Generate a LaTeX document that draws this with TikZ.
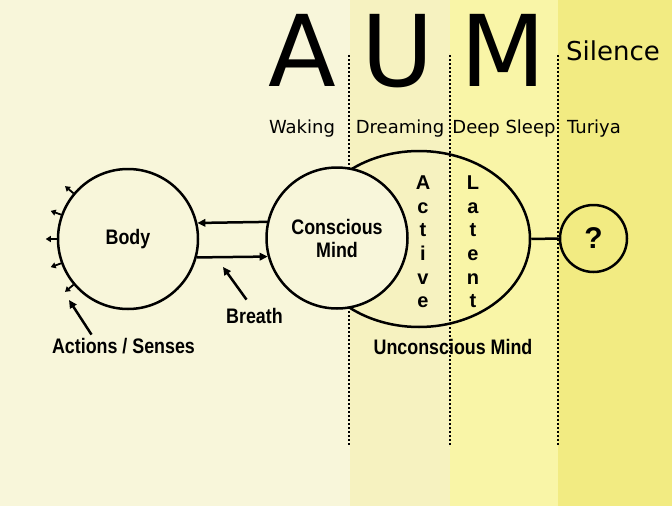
\documentclass[tikz,border=0pt]{standalone}
\usepackage{fontspec}
\setmainfont{DejaVu Sans}
\newfontfamily\lblfont{Liberation Sans}[FakeStretch=0.85]
\newfontfamily\plainfont{Liberation Sans}
\usetikzlibrary{arrows.meta,shapes.geometric}
\definecolor{bandwake}{RGB}{248,246,218}
\definecolor{banddream}{RGB}{246,242,192}
\definecolor{bandsleep}{RGB}{249,245,167}
\definecolor{bandturiya}{RGB}{242,235,130}
\tikzset{
  ring/.style={circle, draw=black, line width=2.5pt, inner sep=0pt, align=center, font=\lblfont\bfseries\fontsize{21}{23}\selectfont},
  lbl/.style={anchor=base, inner sep=0pt, font=\lblfont\bfseries\fontsize{21}{23}\selectfont},
  vlbl/.style={inner sep=0pt, align=center, font=\plainfont\bfseries\fontsize{20}{23.6}\selectfont},
  syl/.style={anchor=base, inner sep=0pt, font=\fontsize{99}{99}\selectfont},
  statelbl/.style={anchor=base, inner sep=0pt, font=\fontsize{18}{20}\selectfont},
  arrow/.style={-{Triangle[length=8pt,width=7.5pt]}, line width=2.5pt},
  tickarrow/.style={-{Triangle[length=5pt,width=6pt]}, line width=1.8pt},
  divider/.style={line width=2pt, dash pattern=on 2pt off 2pt}
}
\begin{document}
\begin{tikzpicture}[x=1pt,y=-1pt]
\useasboundingbox (0,0) rectangle (672,506);
\fill[bandwake] (0,0) rectangle (350,506);
\fill[banddream] (350,0) rectangle (450,506);
\fill[bandsleep] (450,0) rectangle (558,506);
\fill[bandturiya] (558,0) rectangle (672,506);
\foreach \x in {349,450,558}
  \draw[divider] (\x,55) -- (\x,445);
\node[syl] (syla) at (302,86) {A};
\node[syl] (sylu) at (398,86) {U};
\node[syl] (sylm) at (503,86) {M};
\node[anchor=base, inner sep=0pt, font=\fontsize{26}{28}\selectfont] (silence) at (613,60) {Silence};
\node[statelbl] (waking) at (302,133) {Waking};
\node[statelbl] (dreaming) at (400,133) {Dreaming};
\node[statelbl] (deepsleep) at (504,133) {Deep Sleep};
\node[statelbl] (turiya) at (594,133) {Turiya};
\node[ellipse, draw=black, line width=2.5pt, minimum width=222pt, minimum height=176pt] (uncon) at (419,239) {};
\node[ring, fill=bandwake, minimum size=141pt] (mind) at (337,238) {Conscious\\Mind};
\node[ring, minimum size=140pt] (body) at (128,239) {Body};
\node[ring, minimum size=67pt, font=\plainfont\bfseries\fontsize{30}{32}\selectfont] (quest) at (593.5,238.5) {?};
\node[vlbl] (active) at (423,242) {A\\c\\t\\i\\v\\e};
\node[vlbl] (latent) at (473,242) {L\\a\\t\\e\\n\\t};
\node[lbl] (uncontext) at (453,354) {Unconscious Mind};
\node[lbl] (breath) at (254.5,323) {Breath};
\node[lbl] (actions) at (123.5,353) {Actions / Senses};
\coordinate (breathtip) at (223,267);
\coordinate (acttip) at (69,300);
\draw[line width=2.5pt] (uncon.east) -- (quest.west);
\draw[arrow] (mind.167) -- (body.13);
\draw[arrow] (body.-15) -- (mind.195);
\draw[arrow] ([xshift=-8pt,yshift=8pt]breath.north) -- (breathtip);
\draw[arrow] ([xshift=-32pt,yshift=3pt]actions.north) -- (acttip);
\foreach \a in {140,160,180,200,220}
  \draw[tickarrow] (body.\a) -- ++(\a:11pt);
\end{tikzpicture}
\end{document}
